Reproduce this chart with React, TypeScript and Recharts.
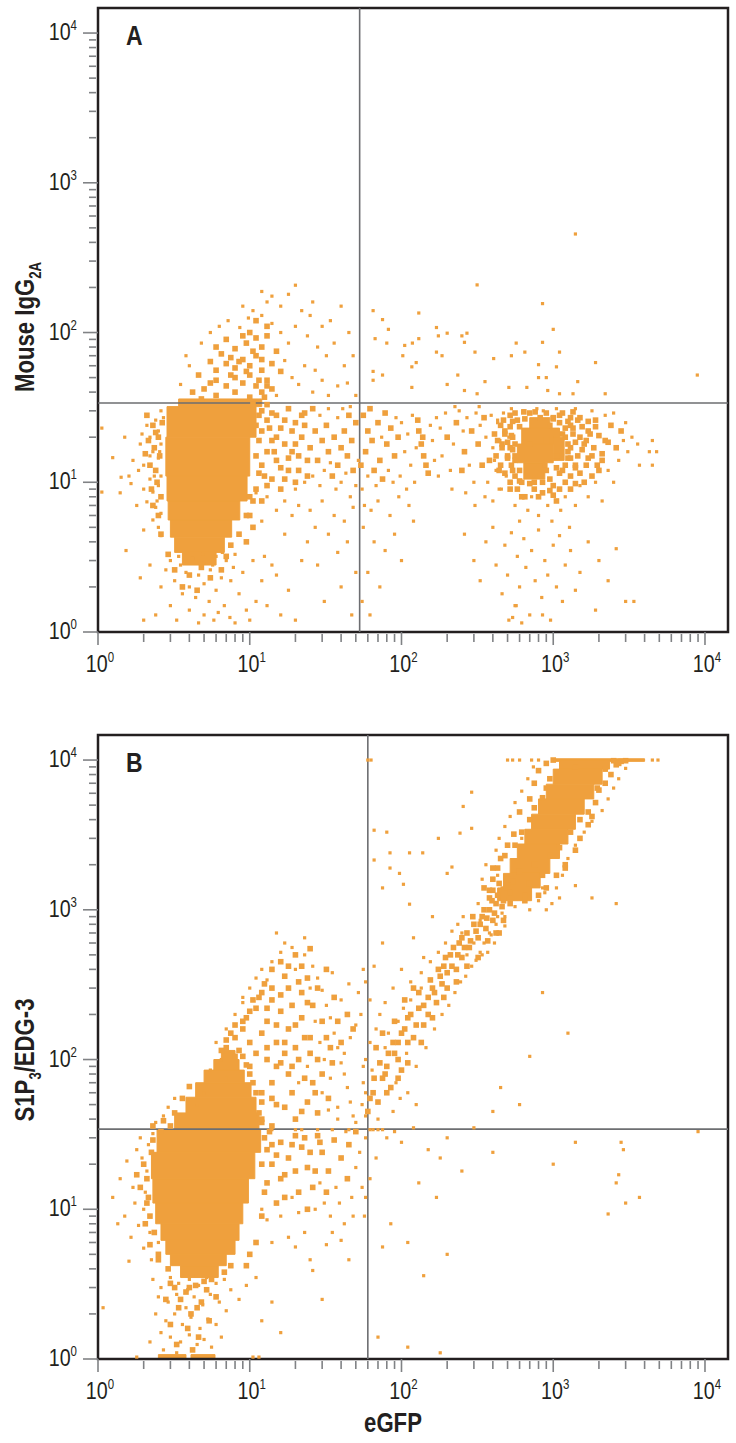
import { ScatterChart, Scatter, XAxis, YAxis, ReferenceLine, ReferenceArea } from "recharts";

const DOT = "#EFA03D";
const GATE = "#6d6e71";
const TICK = "#808285";
const INK = "#231f20";
const FONT = "'Liberation Sans', Arial, sans-serif";
const NARROW = 0.82;

const DECADES = [1, 10, 100, 1000];
const MULTIPLIERS = [1, 2, 3, 4, 5, 6, 7, 8, 9];
const MAJOR_TICKS = [1, 10, 100, 1000, 10000];
const EXPONENTS = ["0", "1", "2", "3", "4"];
const AXIS_TICKS = [...DECADES.flatMap((d) => MULTIPLIERS.map((m) => m * d)), 10000];
const X_MAX = 14180;
const Y_MAX = 14700;

// quadrant gates
const GATE_A = { x: 53, y: 33.8 };
const GATE_B = { x: 60, y: 34.3 };

// solid regions [yLow, yHigh, xLow, xHigh]
const CORE_A: number[][] = [
  [2.8, 3.4, 3.6, 6.0],
  [3.4, 4.3, 3.2, 6.8],
  [4.3, 5.6, 3.0, 7.6],
  [5.6, 7.5, 2.9, 8.6],
  [7.5, 11, 2.85, 9.6],
  [11, 20, 2.8, 10],
  [20, 32, 2.85, 11],
  [32, 36, 3.4, 12],
  [10.5, 13.5, 640, 880],
  [13.5, 18, 580, 1000],
  [18, 23, 620, 1100],
  [23, 27, 700, 950],
  [14, 20, 1000, 1180],
];

const CLUSTER_A: number[][] = [
  [2.5, 20], [2.4, 12], [2.6, 8], [2.55, 15], [2.65, 25], [8.5, 4.5], [9.5, 6], [7.5, 3.8], [10, 8],
  [11, 9], [12.5, 11], [10.5, 7.5],
  [2.1, 28], [2.3, 24], [2.15, 19], [2.35, 17], [2.2, 13], [2.45, 10], [2.3, 7], [2.5, 6], [2.6, 4.5],
  [2.25, 9], [2.05, 15.5], [2.4, 21.5],
  [10.5, 33], [11.5, 28], [11, 24], [11.5, 19], [11, 15], [11.5, 11.5], [10, 6], [10.5, 5], [9.5, 4],
  [13, 33], [14, 29], [13.5, 23], [15, 20], [14.5, 16], [16, 12.5], [13, 9.5], [12, 7.5], [17, 26],
  [19, 22], [18, 14.5], [20, 18], [22, 28], [21, 15], [20, 10], [23, 24], [24, 11], [17, 10.5],
  [12, 30], [13, 26], [12, 22], [14, 19], [13, 16], [12, 13], [15, 28], [16, 23], [17, 18], [15, 14],
  [18, 12], [14, 10.5], [16, 9], [20, 25], [22, 20], [19, 16], [24, 14], [21, 12], [27, 22], [25, 17],
  [30, 19], [28, 14], [33, 16], [36, 20], [32, 24], [40, 17], [38, 13], [44, 15], [47, 19], [42, 22],
  [48, 12], [35, 11], [23, 29], [26, 31], [18, 31], [50, 25], [45, 28],
  [3.2, 2.6], [4, 2.4], [4.8, 2.7], [5.5, 2.3], [3.6, 2.0], [4.5, 1.9], [6.5, 2.6], [7, 3.2], [2.9, 3.3],
  [4.8, 36], [6, 38], [8, 40], [10, 37], [12.5, 37], [13, 44], [5.5, 46], [7.5, 52], [9.5, 55],
  [11.5, 48], [8.5, 64], [10.5, 75], [7.5, 68], [6, 80], [12, 66], [9, 95], [13, 110], [11, 120],
  [5, 42], [6, 48], [7, 44], [8, 50], [9, 46], [10, 52], [11, 44], [12, 40], [6, 56], [7, 62], [8, 58],
  [9, 66], [10, 60], [11, 70], [12, 56], [13, 48], [6.5, 72], [8, 78], [9.5, 85], [11, 92], [7, 90],
  [10, 100], [12, 80], [14, 62], [13, 95], [14, 42], [16, 55], [15, 75], [5.5, 64], [4.6, 52], [4.2, 40],
  [56, 28], [60, 22], [58, 16], [64, 19], [70, 25], [72, 14], [66, 12], [80, 18], [85, 23], [90, 15],
  [78, 29], [95, 20], [62, 31], [54, 13], [75, 10.5], [130, 22], [135, 18], [140, 15], [145, 13],
  [128, 26], [150, 11.5], [138, 20],
  [200, 20], [230, 25], [260, 16], [290, 22], [320, 18], [350, 27], [380, 14], [410, 21], [250, 12], [340, 13],
  [480, 22], [500, 15], [520, 28], [540, 12], [580, 26], [620, 10], [700, 29], [760, 11], [820, 27],
  [880, 13], [950, 24], [1000, 9.5], [1100, 28], [1150, 12], [1200, 20], [1250, 16], [1350, 23],
  [1400, 13], [1500, 27], [1600, 18], [1700, 22], [1800, 15], [1900, 26], [2000, 12], [2200, 19],
  [2400, 24], [460, 18], [440, 12], [520, 9], [650, 8], [850, 8.5], [1050, 7.5], [1300, 9], [1600, 10],
  [2100, 14], [2600, 17], [2800, 22], [700, 18], [900, 19], [1300, 27], [560, 18], [1050, 15],
  [560, 29], [640, 29.5], [760, 29.5], [900, 29], [1150, 29], [1350, 29.5],
  [470, 26], [540, 25.5], [1000, 26.5], [1250, 25.5], [1450, 26], [1700, 25.5],
  [450, 24], [520, 23.5], [1300, 24], [1550, 23.5], [1900, 23.5],
  [480, 21], [530, 20.5], [1350, 21], [1500, 20], [1750, 21], [2000, 20.5],
  [430, 19], [500, 18.5], [1400, 18.5], [1650, 19], [2300, 18.5],
  [460, 17], [540, 16.5], [1300, 17], [1550, 16.5], [1850, 17],
  [420, 15], [500, 14.5], [560, 15], [1250, 14.5], [1450, 15], [1700, 14.5], [2100, 15.5],
  [450, 13], [530, 13], [1200, 13], [1400, 12.5], [1650, 13], [1950, 13],
  [480, 11.5], [560, 11], [1100, 11.5], [1300, 11], [1500, 11.5], [1800, 11],
  [520, 10], [600, 10.2], [700, 9.8], [850, 10], [1200, 10], [1400, 9.8],
  [580, 9], [750, 9], [950, 8.8], [1100, 9], [620, 8], [800, 8], [1000, 8.2],
  [600, 12], [560, 14], [900, 12], [1050, 12.5], [1150, 21], [1200, 23], [1100, 25], [650, 26.5],
  [1000, 27], [540, 20], [520, 17], [1250, 18], [1300, 14.5], [950, 10.5], [750, 10], [600, 23.5],
];

const SPARSE_A: number[][] = [
  [2.6, 30], [2.4, 26], [2.5, 22], [2.2, 20], [2.6, 18], [2.3, 16], [2.5, 14.5], [2.0, 13], [2.4, 12],
  [2.6, 11], [2.2, 10.5], [2.5, 9.5], [2.3, 8.6], [2.6, 8], [2.1, 7.4], [2.4, 6.8], [2.6, 6.2], [2.3, 5.6],
  [2.5, 5], [2.6, 4.4], [2.2, 15], [1.9, 18], [2.1, 24], [2.7, 27], [2.35, 11], [2.55, 16], [2.45, 7.5],
  [2.0, 9], [1.7, 14], [1.6, 11], [1.5, 20], [1.4, 8.5], [1.06, 23], [1.06, 8.6], [1.25, 14.6],
  [1.42, 10.8], [1.65, 9.8], [1.53, 3.5], [1.85, 12], [1.95, 21], [1.8, 7], [2.0, 4.8],
  [3.0, 3.0], [3.5, 2.8], [4.2, 3.1], [5.0, 2.9], [6.0, 3.2], [7.0, 3.0], [8.0, 3.3], [3.8, 2.5],
  [4.6, 2.4], [5.5, 2.6], [6.5, 2.3], [2.8, 2.6], [3.2, 2.2], [4.0, 2.0], [5.0, 2.1], [6.0, 1.9],
  [7.5, 2.2], [9.0, 2.5], [2.6, 2.0], [3.6, 1.8], [4.4, 1.7], [5.4, 1.6], [6.8, 1.5], [8.5, 1.8],
  [3.0, 1.5], [4.0, 1.4], [5.0, 1.3], [6.2, 1.35], [7.4, 1.25], [9.5, 1.4], [11, 1.6], [12, 2.2],
  [14, 2.8], [16, 1.3], [2.4, 1.3], [3.3, 1.2], [4.6, 1.15], [5.8, 1.2], [8, 1.15], [10, 1.2], [13, 1.5],
  [18, 1.9], [2.2, 2.8], [1.9, 2.3], [2.0, 1.2], [10.5, 3.0], [12.5, 3.2], [15, 2.4], [20, 1.2],
  [4.9, 3.3], [3.4, 3.2], [5.7, 2.8], [7.8, 2.7], [6.6, 3.4],
  [11, 8.5], [13, 8], [17, 7.5], [20, 9], [23, 10], [26, 11], [29, 9.5], [31, 12], [34, 13.5], [37, 9],
  [40, 10], [43, 11.5], [46, 8], [50, 9.5], [52, 14], [29, 28], [33, 31], [38, 27], [41, 31], [46, 32],
  [21, 7], [25, 6.5], [30, 7.5], [36, 6], [42, 5.5], [19, 6], [15, 6.5], [27, 5], [48, 6.8], [33, 4.5],
  [24, 4], [44, 4], [38, 3.4], [50, 2.5], [28, 2.8], [40, 2], [17, 4.5], [22, 3], [12, 5.5], [31, 1.6],
  [47, 1.3],
  [4, 60], [3.5, 45], [3.8, 70], [4.8, 85], [5.5, 100], [6.3, 110], [7.2, 120], [8.6, 108], [9.8, 125],
  [12, 130], [14, 115], [16, 100], [18, 85], [17, 65], [19, 50], [21, 45], [23, 60], [20, 110], [22, 140],
  [16, 150], [13, 160], [10.5, 140], [9, 150], [12, 188], [20, 207], [25, 130], [24, 95], [28, 80],
  [30, 110], [26, 160], [14, 175], [18, 180], [32, 70], [34, 120], [27, 56], [36, 85], [40, 150],
  [42, 60], [30, 48], [38, 44], [45, 100], [48, 70], [33, 38], [26, 40], [15, 38], [44, 46], [50, 38],
  [55, 9], [60, 11], [68, 9.5], [74, 20], [82, 12], [88, 10], [92, 27], [98, 11], [100, 25], [105, 16],
  [110, 21], [115, 13], [118, 28], [122, 10], [125, 17], [155, 24], [160, 19], [165, 14], [170, 27],
  [175, 11], [108, 9], [57, 7], [63, 6.5], [70, 7.5], [84, 6], [96, 8], [112, 7], [56, 5], [66, 4],
  [78, 3.5], [60, 2.5], [90, 4.5], [100, 3], [55, 1.6], [62, 1.3], [120, 5.5], [72, 2],
  [185, 15], [195, 29], [210, 12], [220, 18], [240, 30], [255, 22], [270, 27], [280, 13], [300, 10],
  [310, 29], [330, 24], [360, 20], [370, 10], [390, 28], [400, 17], [420, 12], [430, 26], [445, 19],
  [215, 9], [265, 8.5], [305, 7], [355, 8], [400, 7.5], [440, 9], [225, 32], [325, 32], [180, 23],
  [410, 14], [430, 25], [455, 9], [470, 29], [490, 11], [510, 20], [530, 31], [560, 7], [600, 5.5],
  [640, 30], [680, 6.5], [720, 8], [780, 31], [800, 6], [860, 30], [920, 7], [980, 5.5], [1050, 31],
  [1120, 6.5], [1200, 8], [1280, 5], [1400, 7], [1500, 9.5], [1700, 8], [1900, 10], [2100, 7.5],
  [2300, 12], [2500, 10], [2700, 14], [2900, 19], [3100, 16], [3300, 20], [3600, 18], [4300, 16],
  [4500, 13], [3000, 25], [2500, 29], [1800, 30], [1400, 31], [2200, 28], [4800, 16], [4500, 19], [3700, 13],
  [260, 4.5], [300, 3], [330, 2.2], [360, 4], [400, 5], [420, 2.8], [460, 1.8], [480, 3.8], [500, 2.4],
  [530, 4.6], [560, 1.5], [580, 3.2], [600, 2], [640, 4.2], [660, 2.7], [700, 1.3], [720, 3.5],
  [760, 2.2], [800, 4.8], [840, 1.7], [880, 3], [920, 2.4], [960, 1.2], [1000, 3.8], [1050, 2],
  [1100, 4.4], [1150, 1.6], [1200, 2.8], [1300, 3.5], [1400, 1.9], [1500, 2.5], [1700, 4], [1900, 1.4],
  [2000, 3], [2300, 2.2], [2600, 3.6], [3000, 1.6], [620, 1.15], [540, 1.25], [850, 1.3], [3400, 1.6],
  [510, 1.2], [570, 1.5],
  [65, 140], [75, 122], [82, 105], [67, 91], [80, 85], [105, 82], [118, 85], [130, 91], [102, 70],
  [125, 63], [117, 59], [65, 55], [75, 52], [65, 48], [117, 43], [130, 135], [170, 108], [175, 95],
  [200, 99], [250, 95], [270, 99], [170, 74], [185, 70], [260, 86], [305, 74], [235, 52], [200, 45],
  [260, 41], [315, 39], [355, 47], [405, 67], [530, 70], [570, 85], [650, 74], [670, 43], [510, 43],
  [800, 61], [850, 86], [850, 156], [1000, 105], [1050, 59], [800, 50], [900, 50], [1100, 74],
  [1450, 47], [1900, 63], [920, 41], [1100, 39], [1350, 39], [2200, 39], [315, 208], [1400, 455],
  [8900, 52],
];

const CORE_B: number[][] = [
  [3.5, 4.2, 3.5, 6.2],
  [4.2, 5.0, 3.0, 7.0],
  [5.0, 6.2, 2.8, 8.0],
  [6.2, 8.0, 2.6, 8.5],
  [8.0, 11, 2.4, 9.0],
  [11, 16, 2.3, 9.8],
  [16, 24, 2.25, 10.8],
  [24, 34, 2.45, 11.8],
  [34, 44, 3.2, 11.5],
  [44, 56, 3.8, 11],
  [56, 70, 4.4, 10.2],
  [70, 85, 5.0, 9.2],
  [85, 100, 5.8, 8.5],
  [100, 115, 6.5, 8.0],
  [1.0, 1.07, 2.5, 3.8],
  [1.0, 1.07, 4.1, 5.9],
  [9800, 10200, 1000, 4000],
  [8700, 9800, 1100, 2350],
  [6900, 8700, 1000, 2100],
  [5500, 6900, 900, 1850],
  [4350, 5500, 800, 1600],
  [3450, 4350, 720, 1400],
  [2750, 3450, 650, 1250],
  [2200, 2750, 580, 1100],
  [1750, 2200, 520, 950],
  [1400, 1750, 470, 820],
  [1150, 1400, 430, 720],
];

const CLUSTER_B: number[][] = [
  [2.1, 16], [2.15, 12], [2.2, 9], [2.25, 24], [2.3, 29], [2.35, 7], [2.5, 5], [3.0, 36], [3.2, 44],
  [3.6, 55], [4.0, 66], [3.0, 3.2], [4.0, 3.0], [5.0, 3.3], [3.5, 2.5], [4.5, 2.2],
  [3.2, 3.0], [3.8, 2.8], [4.4, 3.1], [5.2, 2.9], [3.4, 2.2], [4.1, 2.0], [4.8, 2.4], [3.0, 1.7],
  [3.9, 1.6], [4.6, 1.4], [5.4, 1.8], [3.3, 1.25], [4.2, 1.15], [2.8, 2.5], [6.0, 2.6], [5.6, 3.4],
  [6.8, 3.8], [7.5, 4.2], [2.9, 4.0], [2.5, 4.6],
  [2.0, 20], [1.9, 14], [2.05, 8], [1.8, 17], [2.1, 11], [2.2, 5.8], [2.3, 36], [2.7, 39], [2.6, 33],
  [12, 20], [12.5, 13], [12, 9], [13.5, 33], [14, 27], [15, 23], [16, 16], [17, 12], [19, 27], [20, 18],
  [21, 13], [23, 30], [25, 24], [27, 18], [24, 10], [29, 28], [32, 13], [11, 6], [10, 5], [9.5, 4.2],
  [12, 38], [11.5, 44], [12, 52], [11, 60], [10.5, 70], [10, 80], [9.5, 92], [9, 105], [8.5, 115],
  [12.5, 30], [13, 25], [14, 20], [13, 15], [16, 28], [18, 22], [17, 17], [20, 31], [22, 26], [24, 19],
  [26, 14], [30, 24], [33, 18], [36, 29], [28, 31], [40, 22], [45, 27], [50, 33], [44, 16], [15, 11],
  [7, 120], [8, 140], [9, 160], [10, 130], [11, 110], [12, 150], [9.5, 190], [11, 220], [13, 180],
  [14, 250], [12, 280], [16, 210], [18, 160], [15, 130], [13, 100], [16, 95], [14, 70], [18, 80],
  [20, 120], [22, 190], [24, 240], [18, 300], [21, 330], [17, 360], [25, 140], [28, 100], [12, 60],
  [15, 50], [19, 60], [22, 45], [26, 70], [8, 105], [10, 90], [12, 40], [14, 36],
  [6.5, 115], [7, 135], [7.5, 150], [8, 170], [9, 180], [10, 210], [10.5, 250], [11.5, 260],
  [12.5, 320], [13, 220], [14, 300], [15, 170], [16, 270], [17, 130], [19, 230], [20, 170], [22, 280],
  [23, 140], [24, 350], [26, 230], [28, 300], [30, 180], [32, 400], [34, 120], [36, 260], [38, 180],
  [14, 400], [16, 450], [18, 420], [20, 500], [22, 420], [25, 550], [13, 120], [15, 90], [17, 110],
  [19, 90], [21, 100], [23, 75], [25, 110], [27, 60], [30, 80], [32, 140], [35, 95], [40, 130],
  [44, 200], [48, 160], [14, 55], [17, 48], [20, 40], [24, 52], [28, 44], [33, 55],
  [60, 45], [65, 60], [70, 52], [75, 75], [80, 90], [85, 65], [90, 110], [95, 130], [100, 85],
  [105, 160], [110, 190], [120, 140], [130, 220], [140, 170], [150, 260], [160, 300], [170, 240],
  [180, 360], [190, 420], [200, 300], [210, 500], [230, 400], [240, 600], [250, 480], [270, 700],
  [280, 560], [300, 800], [320, 650], [340, 900], [360, 750], [380, 1000], [400, 850], [420, 1100],
  [440, 700],
  [62, 55], [66, 75], [72, 95], [78, 80], [82, 110], [88, 130], [95, 100], [100, 150], [110, 130],
  [115, 200], [125, 170], [130, 280], [140, 230], [150, 200], [155, 340], [165, 280], [175, 400],
  [185, 320], [195, 480], [200, 380], [215, 420], [220, 560], [235, 500], [250, 650], [260, 560],
  [285, 620], [295, 900], [310, 720], [330, 800], [350, 1000], [365, 880], [395, 1150], [410, 950],
  [430, 1250], [470, 1150], [500, 1400], [540, 1550], [440, 1500], [400, 1350], [68, 120], [75, 150],
  [90, 180], [105, 250], [120, 300], [80, 60], [95, 75], [110, 95], [135, 130], [160, 190], [190, 260],
  [230, 330], [270, 420], [320, 480], [370, 620], [420, 700], [470, 850],
  [350, 1400], [400, 1900], [450, 2200], [500, 2700], [550, 3200], [600, 4500], [700, 5500],
  [750, 7000], [800, 8500], [900, 9500], [380, 1200], [460, 1050], [520, 1300], [650, 1250],
  [700, 1500], [850, 1700], [950, 2300], [1100, 2600], [1300, 3300], [1500, 4000], [1700, 4500],
  [1900, 5200], [2000, 6300], [2200, 7000], [2400, 8000], [2600, 9300], [2800, 9800], [1200, 1900],
  [600, 1800], [750, 2000], [500, 1600],
  [1000, 10000], [1400, 9000], [2500, 9900], [2700, 9500], [3000, 9900], [950, 7500], [900, 6500],
  [1950, 6500], [2200, 8700], [850, 5600], [1800, 4200], [1700, 3700], [750, 4800], [700, 4000],
  [1500, 3000], [620, 3300], [1400, 2500], [560, 2700], [1200, 2000], [480, 2300], [1050, 1700],
  [430, 1900], [900, 1400], [400, 1600], [800, 1250], [380, 1350], [520, 1100], [650, 1150],
];

const SPARSE_B: number[][] = [
  [1.25, 12], [1.4, 16], [1.55, 21], [1.5, 9], [1.7, 14], [1.8, 25], [1.9, 30], [1.65, 6.5],
  [1.85, 7.8], [2.0, 10], [2.1, 18], [1.95, 22], [2.15, 27], [2.0, 5.5], [2.2, 7], [2.3, 32],
  [1.75, 11], [2.05, 13], [1.6, 4.5], [2.25, 4.6], [2.4, 38], [2.7, 42], [2.9, 48], [3.2, 55], [2.5, 6],
  [1.35, 8], [1.08, 2.2],
  [2.3, 3.4], [2.6, 3.0], [3.0, 3.5], [3.4, 3.2], [4.0, 3.4], [4.6, 3.1], [5.2, 3.5], [6.0, 3.2],
  [6.8, 3.4], [7.5, 2.9], [2.5, 2.6], [2.9, 2.4], [3.3, 2.7], [3.8, 2.2], [4.3, 2.6], [4.9, 2.3],
  [5.5, 2.7], [6.3, 2.4], [7.0, 2.1], [2.4, 2.0], [2.8, 1.8], [3.2, 2.0], [3.6, 1.7], [4.1, 1.9],
  [4.7, 1.6], [5.3, 1.85], [6.0, 1.7], [2.6, 1.5], [3.0, 1.4], [3.5, 1.3], [4.0, 1.45], [4.5, 1.25],
  [5.0, 1.35], [5.6, 1.2], [2.7, 1.15], [3.3, 1.1], [8.5, 2.5], [9.5, 3.1], [11, 3.5], [14, 2.4],
  [16, 1.5], [12, 1.8], [2.2, 1.3], [6.5, 1.4], [3.9, 2.9], [4.4, 3.6], [10.5, 1.03], [11.5, 1.03],
  [1.8, 1.03],
  [12, 10], [13, 8.5], [16, 9], [19, 12], [21, 9.5], [23, 7], [27, 10], [29, 15], [31, 11], [34, 9],
  [37, 14], [39, 11], [42, 8], [47, 12], [50, 19], [53, 24], [55, 14], [57, 9], [20, 5.6], [25, 4.6],
  [32, 5.8], [40, 6.2], [18, 6.5], [26, 3.9], [45, 4.6], [14, 6], [30, 2.5], [58, 30], [48, 9], [35, 7],
  [22, 34], [43, 33], [14, 34], [20, 34], [28, 34], [35, 34], [45, 34], [62, 34],
  [6, 130], [7, 160], [8, 200], [9, 240], [10, 300], [11, 350], [12, 400], [14, 450], [16, 520],
  [19, 560], [23, 500], [26, 420], [28, 350], [30, 290], [32, 230], [34, 190], [36, 150], [38, 120],
  [40, 95], [42, 80], [44, 65], [46, 52], [48, 42], [50, 38], [30, 60], [34, 75], [38, 48], [42, 110],
  [46, 140], [50, 170], [54, 200], [56, 90], [58, 60], [27, 180], [29, 130], [31, 100], [33, 46],
  [24, 90], [21, 70], [20, 400], [25, 300], [35, 380], [40, 250], [45, 320], [52, 280], [56, 400],
  [17, 600], [15, 700], [23, 650], [5.5, 85], [6.5, 100], [5, 60], [7, 75], [4.5, 50], [38, 40],
  [55, 50], [9, 260], [13, 340],
  [56, 70], [58, 100], [62, 130], [64, 85], [68, 160], [72, 200], [78, 240], [82, 150], [88, 300],
  [92, 70], [98, 55], [103, 220], [108, 110], [115, 330], [125, 90], [135, 380], [145, 120], [155, 450],
  [165, 160], [175, 520], [185, 200], [195, 600], [205, 230], [215, 720], [225, 280], [235, 800],
  [245, 330], [255, 900], [265, 360], [290, 420], [310, 460], [330, 520], [350, 600], [370, 520],
  [390, 680], [410, 600], [430, 900], [460, 950], [480, 780], [58, 42], [70, 40], [88, 45], [110, 60],
  [125, 50], [78, 120], [95, 180], [115, 250], [135, 300], [62, 250], [58, 330], [66, 420], [75, 600],
  [140, 480], [100, 400], [120, 650], [160, 900],
  [80, 3300], [66, 3400], [175, 3000], [243, 3250], [255, 4900], [290, 6100], [290, 3500], [66, 2150],
  [84, 2400], [113, 2400], [138, 2400], [75, 1400], [97, 1750], [84, 1900], [103, 1480], [113, 1090],
  [215, 1930], [200, 1750],
  [320, 1100], [340, 1600], [360, 2000], [420, 2500], [440, 3000], [480, 3600], [520, 4200],
  [560, 5200], [620, 6200], [680, 7500], [740, 9000], [980, 1100], [1050, 1400], [1150, 1700],
  [1250, 2200], [1400, 2700], [1600, 3300], [1800, 3900], [2100, 4600], [2300, 5500], [2500, 6500],
  [2700, 7500], [3000, 8800], [560, 1050], [700, 1000], [800, 1150], [880, 1300], [1800, 1200],
  [2600, 1100], [430, 1700], [460, 1400], [600, 2600], [620, 3000], [850, 1400], [1400, 1450],
  [1100, 1200], [900, 1000], [480, 900], [420, 800], [380, 700], [330, 850], [300, 600], [270, 500],
  [340, 500], [250, 700],
  [500, 10000], [540, 10000], [600, 10000], [720, 10000], [800, 10000], [4500, 10000], [4900, 10000],
  [60, 10000], [63, 10000],
  [70, 34], [90, 33], [75, 34], [65, 34], [80, 30], [100, 28], [120, 35], [150, 25], [180, 22],
  [200, 30], [250, 18], [130, 15], [170, 12], [300, 35], [400, 24], [85, 8], [110, 6], [140, 3.6],
  [200, 5], [700, 105], [1250, 150], [850, 280], [1400, 28], [2800, 28], [2900, 25], [2300, 9.3],
  [3700, 12], [3000, 11], [2600, 15], [2700, 17], [9000, 33], [1000, 20], [600, 50], [400, 45],
  [450, 65], [75, 5.6], [62, 16], [68, 22], [58, 12], [70, 1.4], [110, 1.2], [180, 1.1],
];

const toPoints = (rows: number[][]) => rows.map(([x, y]) => ({ x, y }));

const dotShape = (props: any) => (
  <rect x={props.cx - 1.6} y={props.cy - 1.6} width={3.2} height={3.2} fill={DOT} />
);
const clusterShape = (props: any) => (
  <rect x={props.cx - 2.8} y={props.cy - 2.8} width={5.6} height={5.6} fill={DOT} />
);

const Power = ({ x, y, idx, anchor }: { x: number; y: number; idx: number; anchor: "middle" | "end" }) => (
  <text
    transform={`translate(${x},${y}) scale(${NARROW},1)`}
    textAnchor={anchor}
    fontSize={24}
    fill={INK}
    fontFamily={FONT}
  >
    10
    <tspan dy={-10} fontSize={14}>{EXPONENTS[idx]}</tspan>
  </text>
);

const XTick = (props: any) => {
  const { x, y, payload } = props;
  const idx = MAJOR_TICKS.indexOf(payload.value);
  const major = idx >= 0;
  return (
    <g>
      <line x1={x} x2={x} y1={y + (major ? 0 : 2)} y2={y + (major ? 13 : 10)} stroke={TICK} strokeWidth={1.6} />
      {major && <Power x={x + 2} y={y + 40} idx={idx} anchor="middle" />}
    </g>
  );
};

const YTick = (props: any) => {
  const { x, y, payload } = props;
  const idx = MAJOR_TICKS.indexOf(payload.value);
  const major = idx >= 0;
  return (
    <g>
      <line x1={x - (major ? 15 : 9)} x2={x - (major ? 0 : 2)} y1={y} y2={y} stroke={TICK} strokeWidth={1.6} />
      {major && <Power x={x - 21} y={y + 7} idx={idx} anchor="end" />}
    </g>
  );
};

interface PanelProps {
  letter: string;
  title: string;
  sub: string;
  rest?: string;
  titleY: number;
  gate: { x: number; y: number };
  core: number[][];
  cluster: number[][];
  sparse: number[][];
  xTitle?: string;
}

function Panel({ letter, title, sub, rest, titleY, gate, core, cluster, sparse, xTitle }: PanelProps) {
  const yTitle = () => (
    <text
      transform={`translate(34,${titleY}) rotate(-90) scale(${NARROW},1)`}
      textAnchor="middle"
      fontSize={27}
      fontWeight="bold"
      fill={INK}
      fontFamily={FONT}
    >
      {title}
      <tspan dy={7} fontSize={16}>{sub}</tspan>
      {rest && <tspan dy={-7}>{rest}</tspan>}
    </text>
  );
  const xLabel = () => (
    <text
      transform={`translate(393,705) scale(${NARROW},1)`}
      textAnchor="middle"
      fontSize={27}
      fontWeight="bold"
      fill={INK}
      fontFamily={FONT}
    >
      {xTitle}
    </text>
  );
  const letterLabel = () => (
    <text transform={`translate(126,45) scale(${NARROW},1)`} fontSize={28} fontWeight="bold" fill={INK} fontFamily={FONT}>
      {letter}
    </text>
  );
  return (
    <ScatterChart width={736} height={712} margin={{ top: 8, right: 8, bottom: 0, left: 38 }}>
      <XAxis
        type="number"
        dataKey="x"
        scale="log"
        domain={[1, X_MAX]}
        allowDataOverflow
        ticks={AXIS_TICKS}
        interval={0}
        tick={<XTick />}
        tickLine={false}
        axisLine={false}
        tickSize={0}
        tickMargin={0}
        height={80}
        label={xTitle ? xLabel : undefined}
      />
      <YAxis
        type="number"
        dataKey="y"
        scale="log"
        domain={[1, Y_MAX]}
        allowDataOverflow
        ticks={AXIS_TICKS}
        interval={0}
        tick={<YTick />}
        tickLine={false}
        axisLine={false}
        tickSize={0}
        tickMargin={0}
        width={60}
        label={yTitle}
      />
      {core.map(([y1, y2, x1, x2], i) => (
        <ReferenceArea
          key={i}
          x1={x1}
          x2={x2}
          y1={y1}
          y2={y2}
          fill={DOT}
          fillOpacity={1}
          stroke={DOT}
          strokeWidth={1}
          ifOverflow="visible"
        />
      ))}
      <Scatter data={toPoints(cluster)} shape={clusterShape} isAnimationActive={false} />
      <Scatter data={toPoints(sparse)} shape={dotShape} isAnimationActive={false} />
      <ReferenceLine x={gate.x} stroke={GATE} strokeWidth={1.6} />
      <ReferenceLine y={gate.y} stroke={GATE} strokeWidth={1.6} />
      <ReferenceArea
        x1={1}
        x2={X_MAX}
        y1={1}
        y2={Y_MAX}
        fill="none"
        stroke={INK}
        strokeWidth={2.5}
        ifOverflow="visible"
        label={letterLabel}
      />
    </ScatterChart>
  );
}

export default function App() {
  return (
    <div style={{ position: "absolute", left: 0, top: 0, width: 736, height: 1443, background: "#fff" }}>
      <div style={{ position: "absolute", left: 0, top: 0 }}>
        <Panel
          letter="A"
          title="Mouse IgG"
          sub="2A"
          titleY={327}
          gate={GATE_A}
          core={CORE_A}
          cluster={CLUSTER_A}
          sparse={SPARSE_A}
        />
      </div>
      <div style={{ position: "absolute", left: 0, top: 727 }}>
        <Panel
          letter="B"
          title="S1P"
          sub="3"
          rest="/EDG-3"
          titleY={333}
          gate={GATE_B}
          core={CORE_B}
          cluster={CLUSTER_B}
          sparse={SPARSE_B}
          xTitle="eGFP"
        />
      </div>
    </div>
  );
}
